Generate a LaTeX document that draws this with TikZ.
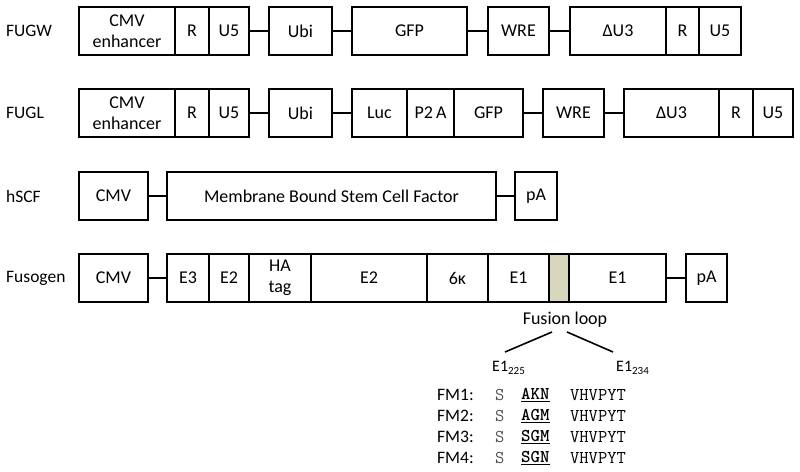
\documentclass[tikz,border=0pt]{standalone}
\usepackage{fontspec}
\setmainfont{Carlito}
\definecolor{loopfill}{RGB}{216,214,188}
\definecolor{seqgray}{RGB}{80,80,80}
\tikzset{
  box/.style={draw, line width=1.8pt, inner sep=0pt, align=center, font=\fontsize{18}{21}\selectfont, minimum height=48pt},
  conn/.style={line width=1.8pt},
  rowlabel/.style={anchor=west, inner sep=0pt, font=\fontsize{17.5}{18}\selectfont},
  seq/.style={anchor=west, inner sep=0pt, font=\fontsize{18}{18}\ttfamily}
}
% \gbox{name}{x1}{x2}{ytop}{text}
\newcommand{\gbox}[5]{\node[box, minimum width={(#3-#2)*1pt}] (#1) at ({(#2+#3)/2},{#4+24}) {#5};}
\newcommand{\subnum}[1]{\raisebox{-3pt}{\fontsize{11}{11}\selectfont #1}}
\begin{document}
\begin{tikzpicture}[x=1pt,y=-1pt]
\useasboundingbox (0,0) rectangle (800,471);
% FUGW
\node[rowlabel] (l1) at (6,31) {FUGW};
\gbox{a1}{79}{175}{7}{CMV\\enhancer}
\gbox{a2}{175}{209}{7}{R}
\gbox{a3}{209}{249}{7}{U5}
\gbox{a4}{269}{332}{7}{Ubi}
\gbox{a5}{352}{467}{7}{GFP}
\gbox{a6}{488}{549}{7}{WRE}
\gbox{a7}{570}{666}{7}{ΔU3}
\gbox{a8}{666}{699}{7}{R}
\gbox{a9}{699}{741}{7}{U5}
\draw[conn] (a3.east) -- (a4.west);
\draw[conn] (a4.east) -- (a5.west);
\draw[conn] (a5.east) -- (a6.west);
\draw[conn] (a6.east) -- (a7.west);
% FUGL
\node[rowlabel] (l2) at (6,113) {FUGL};
\gbox{b1}{79}{175}{89}{CMV\\enhancer}
\gbox{b2}{175}{209}{89}{R}
\gbox{b3}{209}{249}{89}{U5}
\gbox{b4}{269}{332}{89}{Ubi}
\gbox{b5}{352}{407}{89}{Luc}
\gbox{b6}{407}{454}{89}{P2\,A}
\gbox{b7}{454}{523}{89}{GFP}
\gbox{b8}{543}{604}{89}{WRE}
\gbox{b9}{624}{719}{89}{ΔU3}
\gbox{b10}{719}{753}{89}{R}
\gbox{b11}{753}{793}{89}{U5}
\draw[conn] (b3.east) -- (b4.west);
\draw[conn] (b4.east) -- (b5.west);
\draw[conn] (b7.east) -- (b8.west);
\draw[conn] (b8.east) -- (b9.west);
% hSCF
\node[rowlabel] (l3) at (6,196) {hSCF};
\gbox{c1}{79}{148}{172}{CMV}
\gbox{c2}{167}{496}{172}{Membrane Bound Stem Cell Factor}
\gbox{c3}{515}{557}{172}{pA}
\draw[conn] (c1.east) -- (c2.west);
\draw[conn] (c2.east) -- (c3.west);
% Fusogen
\node[rowlabel] (l4) at (6,278) {Fusogen};
\gbox{d1}{79}{148}{254}{CMV}
\gbox{d2}{167}{209}{254}{E3}
\gbox{d3}{209}{249}{254}{E2}
\gbox{d4}{249}{311}{254}{HA\\tag}
\gbox{d5}{311}{427}{254}{E2}
\gbox{d6}{427}{488}{254}{6κ}
\gbox{d7}{488}{549}{254}{E1}
\node[box, fill=loopfill, minimum width=20pt] (d8) at (559,278) {};
\gbox{d9}{569}{666}{254}{E1}
\gbox{d10}{686}{727}{254}{pA}
\draw[conn] (d1.east) -- (d2.west);
\draw[conn] (d9.east) -- (d10.west);
% Fusion loop
\node[inner sep=0pt, font=\fontsize{18}{18}\selectfont] (fl) at (565,320) {Fusion loop};
\coordinate (fa) at (552,332);
\coordinate (fb) at (505,352);
\coordinate (fc) at (567,332);
\coordinate (fd) at (613,352);
\draw[line width=1.6pt] (fa) -- (fb);
\draw[line width=1.6pt] (fc) -- (fd);
\node[anchor=west, inner sep=0pt, font=\fontsize{16}{16}\selectfont] (e225) at (492,368) {E1\subnum{225}};
\node[anchor=west, inner sep=0pt, font=\fontsize{16}{16}\selectfont] (e234) at (616,368) {E1\subnum{234}};
% FM rows
\foreach \n/\yy/\mid in {1/395/AKN, 2/416/AGM, 3/437/SGM, 4/458/SGN}{
  \node[rowlabel] (fm\n) at (437,\yy) {FM\n:};
  \node[seq, text=seqgray] (s\n) at (495,\yy) {S};
  \node[seq] (m\n) at (521,\yy) {\underline{\textbf{\mid}}};
  \node[seq] (v\n) at (570,\yy) {VHVPYT};
}
\end{tikzpicture}
\end{document}
